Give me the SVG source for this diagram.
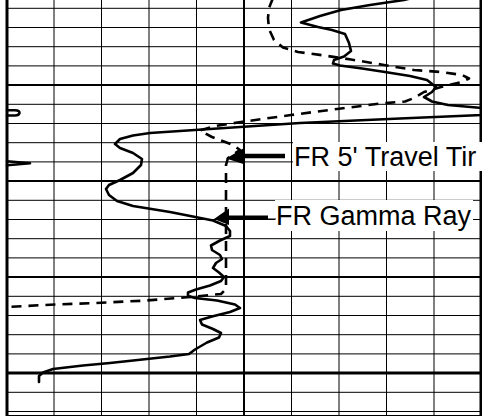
<svg xmlns="http://www.w3.org/2000/svg" width="482" height="418" viewBox="0 0 482 418">
<style>
.g{stroke:#000;stroke-width:1;fill:none}
.gt{stroke:#000;stroke-width:2;fill:none}
.gb{stroke:#000;stroke-width:3;fill:none}
.solid{stroke:#000;stroke-width:2.6;fill:none;stroke-linejoin:round;stroke-linecap:round}
.dash{stroke:#000;stroke-width:2.6;fill:none;stroke-dasharray:10 7;stroke-linejoin:round}
.lbl{font-family:"Liberation Sans",Arial,sans-serif;font-size:27px;fill:#000}
</style>
<rect x="0" y="0" width="482" height="418" fill="#fff"/>
<g id="grid">
<path class="g" d="M54,0V416M101.5,0V416M149,0V416M196.5,0V416M291.5,0V416M339,0V416M386.5,0V416M434,0V416"/>
<path class="g" d="M6,8.3H482M6,27.5H482M6,46.7H482M6,65.9H482M6,104.3H482M6,123.5H482M6,142.7H482M6,161.9H482M6,200.3H482M6,219.5H482M6,238.7H482M6,257.9H482M6,296.3H482M6,315.5H482M6,334.7H482M6,353.9H482M6,392.3H482M6,411.5H482M6,415.5H482"/>
<path class="gt" d="M6,85.1H482M6,181.1H482M6,277.1H482M244,0V416"/>
<path class="gb" d="M6,373.1H482M7,0V416M481,0V416"/>
</g>
<g id="curves">
<polyline id="gamma-ray" class="solid" points="420,-4 404,0 370,5 341,10 320,16 301,22.5 318,27 332,30 345,34 349,43 351,51 344,56.5 334,60 333,63.5 340,65.5 362,68.5 385,72 410,76 427,80 436,87 432,92 424,97 432,101.5 448,105 482,108 492,111 482,115 400,118.5 300,123 240,127 180,131 150,133 133,135.5 120,139 115,144 120,148 133,153 142,159 141,165 133,173 120,180 109,185 106,189 109,195 117,201 133,206 170,212 213,220.5 226,226 230,231 230,236 220,240.5 211,245.5 212,250 220,255 222,259 216,263 213,268 219,272.5 224,277 221,281 210,285.5 196,289.5 188,292.5 188,296 195,298 217,300.5 235,304.5 240,308 230,312 212,316.5 200,320 202,324.5 213,329 221,333 219,337.5 207,342.5 195,349.5 189,354 170,356.5 147,359 110,363 83,365.5 53,369 43,372.5 39,376 39,382"/>
<polyline id="travel-time" class="dash" points="273,-2 269,8 268,18 269,29 274,40 283,47.5 298,52 324,55.5 351,59.5 384,65 414,70 441,72 462,75 469,78.5 462,82 441,87 424,92 414,98 405,101.5 381,103.5 341,108.5 291,115 241,122 215,126 200,130.5 212,137 233,145 240,150 228,158 226,165 226,289 221,294 187,297.3 143,300.7 90,303.3 50,304.7 7,307"/>
<path id="left-loop" class="solid" stroke-width="2" d="M7,110.3 H15 Q20,110.5 19.5,113 Q19,115.5 15,115.5 H7"/>
<path id="left-spike" class="solid" stroke-width="1.6" d="M7,161.3 L30,163.3 L7,165.3"/>
</g>
<g id="label-travel-time">
<rect x="293" y="142" width="190" height="29" fill="#fff"/>
<path d="M240,156 H285" stroke="#000" stroke-width="4.5"/>
<polygon points="226,158.5 244,148 245,164.5" fill="#000"/>
<text class="lbl" x="294" y="166">FR 5' Travel Tir</text>
</g>
<g id="label-gamma-ray">
<rect x="275" y="200" width="198" height="31" fill="#fff"/>
<path d="M225,217.5 H268" stroke="#000" stroke-width="4"/>
<path d="M268,219 H276" stroke="#000" stroke-width="1"/>
<polygon points="214,219 229,208.5 229,225" fill="#000"/>
<text class="lbl" x="276" y="225">FR Gamma Ray</text>
</g>
</svg>
